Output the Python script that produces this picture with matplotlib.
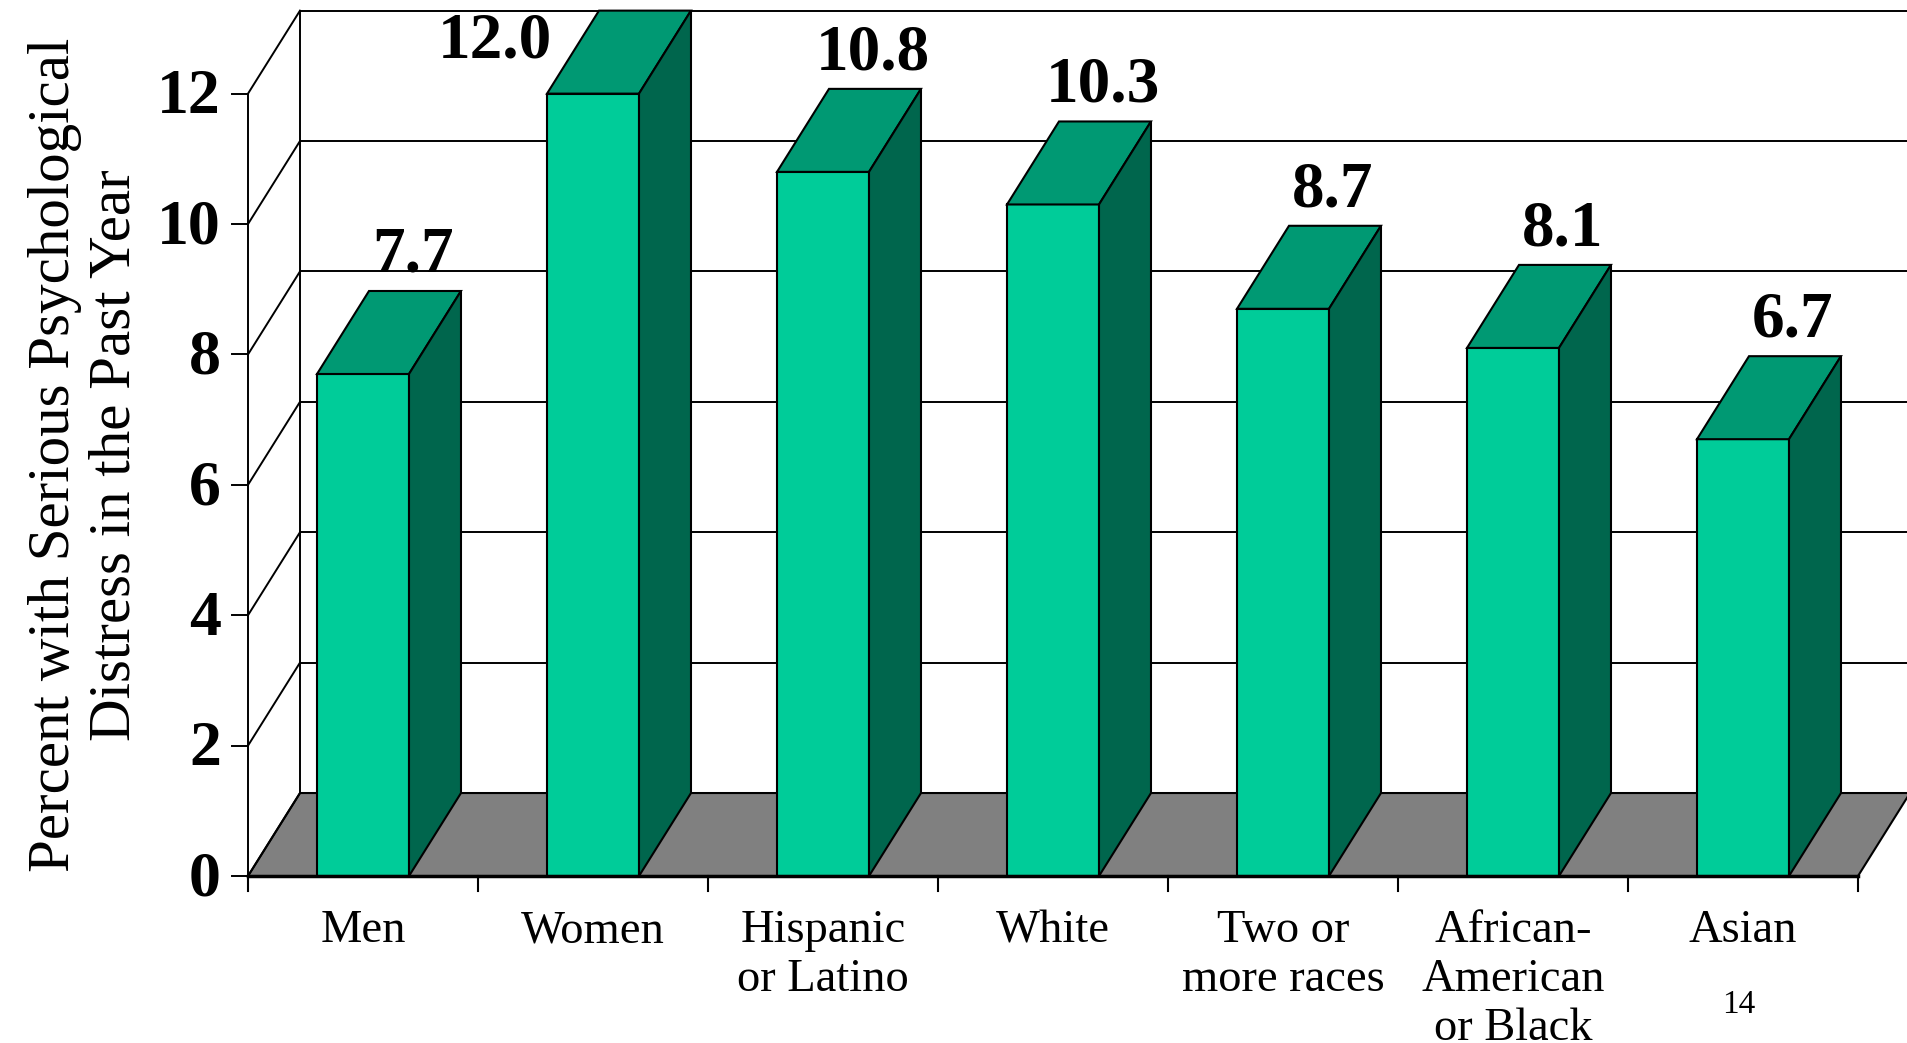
#!/usr/bin/env python

import matplotlib.pyplot as plt
from matplotlib.patches import Polygon

# Serious psychological distress, percent of adults in the past year
categories = ['Men', 'Women', 'Hispanic\nor Latino', 'White',
              'Two or\nmore races', 'African-\nAmerican\nor Black', 'Asian']
values = [7.7, 12.0, 10.8, 10.3, 8.7, 8.1, 6.7]
yticks = [0, 2, 4, 6, 8, 10, 12]
ylabel = 'Percent with Serious Psychological\nDistress in the Past Year'
page_number = '14'

FRONT = '#00CC99'
TOP = '#009973'
SIDE = '#00664D'
FLOOR = '#808080'

# depth of the pseudo-3D box in data units (x: categories, y: percent)
DX = 0.226
DY = 1.273
BAR_W = 0.4
SERIF = 'Liberation Serif'


def draw_frame(ax, n, ymax):
    # floor
    floor = Polygon([(0, 0), (n, 0), (n + DX, DY), (DX, DY)], closed=True,
                    facecolor=FLOOR, edgecolor='black', lw=1.5, zorder=1)
    ax.add_patch(floor)

    # back wall grid, side wall diagonals and front axis ticks
    for v in yticks:
        ax.plot([0, DX], [v, v + DY], color='black', lw=1.4, zorder=1.5)
        ax.plot([-0.07, 0], [v, v], color='black', lw=1.4, zorder=1.5)
        ax.text(-0.118, v - 0.3, str(v), ha='right', va='baseline',
                fontsize=46, fontweight='bold', family=SERIF)
        if v > 0:
            ax.plot([DX, n + DX], [v + DY, v + DY], color='black', lw=1.4,
                    zorder=1.5)
    ax.plot([0, 0], [0, ymax], color='black', lw=1.4, zorder=1.5)
    ax.plot([DX, DX], [DY, ymax + DY], color='black', lw=1.4, zorder=1.5)

    # category axis along the front edge of the floor
    ax.plot([0, n], [0, 0], color='black', lw=2.5, zorder=6)
    for i in range(n + 1):
        ax.plot([i, i], [0, -0.23], color='black', lw=1.5, zorder=6)


def draw_bar(ax, i, v):
    x0 = i + 0.5 - BAR_W / 2
    x1 = x0 + BAR_W
    front = Polygon([(x0, 0), (x1, 0), (x1, v), (x0, v)], closed=True,
                    facecolor=FRONT, edgecolor='black', lw=1.5, zorder=3)
    top = Polygon([(x0, v), (x1, v), (x1 + DX, v + DY), (x0 + DX, v + DY)],
                  closed=True, facecolor=TOP, edgecolor='black', lw=1.5,
                  zorder=3)
    side = Polygon([(x1, 0), (x1 + DX, DY), (x1 + DX, v + DY), (x1, v)],
                   closed=True, facecolor=SIDE, edgecolor='black', lw=1.5,
                   zorder=3)
    for p in (front, top, side):
        ax.add_patch(p)
    return x0, x1


def plot_chart():
    n = len(categories)
    ymax = max(yticks)

    fig = plt.figure(figsize=(19.07, 10.43), dpi=100)
    ax = fig.add_axes([0, 0, 1, 1])
    ax.set_xlim(-1.0783, 7.2130)
    ax.set_ylim(-2.561, 13.436)
    ax.axis('off')

    draw_frame(ax, n, ymax)

    for i, v in enumerate(values):
        x0, x1 = draw_bar(ax, i, v)
        if v + DY + 0.9 > ymax + DY:
            # no room above the box, put the label beside the bar instead
            ax.text(x0 + 0.02, v + 0.55, f'{v:.1f}', ha='right',
                    va='baseline', fontsize=47, fontweight='bold',
                    family=SERIF, zorder=7)
        else:
            ax.text((x0 + x1) / 2 + DX - 0.01, v + DY + 0.3, f'{v:.1f}',
                    ha='center', va='baseline', fontsize=47,
                    fontweight='bold', family=SERIF, zorder=7)

    for i, name in enumerate(categories):
        ax.text(i + 0.5, -0.52, name, ha='center', va='top', fontsize=33.5,
                family=SERIF, linespacing=1.2)

    ax.text(-0.709, 6.46, ylabel, rotation=90, ha='center', va='center',
            multialignment='center', fontsize=42.5, family=SERIF,
            linespacing=1.15)

    ax.text(6.48, -2.1, page_number, ha='center', va='baseline',
            fontsize=24, family=SERIF)

    fig.savefig('out.png', dpi=100)


if __name__ == '__main__':
    plot_chart()
